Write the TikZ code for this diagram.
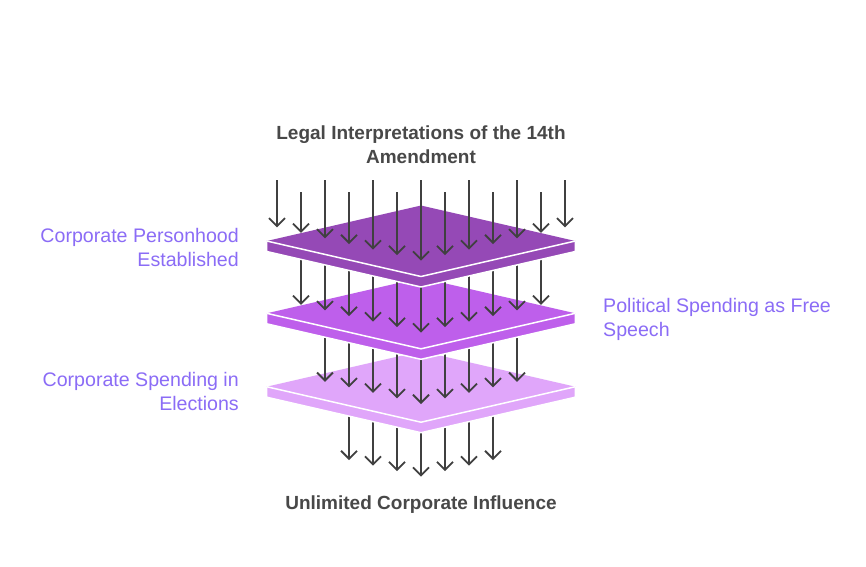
\documentclass[tikz,border=0pt]{standalone}
\usepackage{fontspec}
\setmainfont{Liberation Sans}
\usetikzlibrary{arrows.meta}
\definecolor{layerA}{RGB}{149,73,182}
\definecolor{layerB}{RGB}{190,95,235}
\definecolor{layerC}{RGB}{224,166,250}
\definecolor{arrowgray}{RGB}{64,64,64}
\definecolor{titlegray}{RGB}{72,72,72}
\definecolor{labelpurple}{RGB}{139,108,246}
\tikzset{
  arr/.style={draw=arrowgray, line width=1.8pt, -{Straight Barb[length=8pt,width=16pt,line width=1.8pt]}},
  titletext/.style={font=\fontsize{19}{24}\selectfont\bfseries, text=titlegray, align=center, inner sep=0pt},
  labeltext/.style={font=\fontsize{19.6}{24}\selectfont, text=labelpurple, inner sep=0pt},
}
\newcommand{\myslab}[3]{%
  \begin{scope}[shift={(#1,#2)}]
    \filldraw[fill=#3, draw=white, line width=1.5pt, line join=round]
      (-154.3,0) -- (-154.3,10.5) -- (0,46) -- (154.3,10.5) -- (154.3,0) -- (0,-35.5) -- cycle;
    \fill[#3] (-154.3,0) -- (0,-35.5) -- (154.3,0) -- (0,35.5) -- cycle;
    \draw[white, line width=1.5pt, line join=round] (-154.3,0) -- (0,35.5) -- (154.3,0);
  \end{scope}}
\begin{document}
\begin{tikzpicture}[x=1pt,y=-1pt]
\useasboundingbox[fill=white] (0,0) rectangle (866,566);
% bottom arrows
\foreach \k in {-3,...,3}{
  \draw[arr] ({421+24*\k},395) -- ({421+24*\k},{476.7-0.2315*abs(24*\k)});
}
\myslab{421}{386.7}{layerC}
\foreach \k in {-4,...,4}{
  \draw[arr] ({421+24*\k},318) -- ({421+24*\k},{404-0.2315*abs(24*\k)});
}
\myslab{421}{313.3}{layerB}
\foreach \k in {-5,...,5}{
  \draw[arr] ({421+24*\k},245) -- ({421+24*\k},{332.7-0.2315*abs(24*\k)});
}
\myslab{421}{241}{layerA}
\foreach \k in {-6,...,6}{
  \pgfmathsetmacro{\sy}{isodd(\k) ? 192.3 : 180}
  \draw[arr] ({421+24*\k},\sy) -- ({421+24*\k},{260.7-0.2315*abs(24*\k)});
}
% texts
\node[titletext] (title) at (421,145) {Legal Interpretations of the 14th\\Amendment};
\node[titletext] (result) at (421,505) {Unlimited Corporate Influence};
\node[labeltext, anchor=east, align=right] (l1) at (239,247) {Corporate Personhood\\Established};
\node[labeltext, anchor=west, align=left] (l2) at (603,319) {Political Spending as Free\\Speech};
\node[labeltext, anchor=east, align=right] (l3) at (239,391) {Corporate Spending in\\Elections};
\end{tikzpicture}
\end{document}
